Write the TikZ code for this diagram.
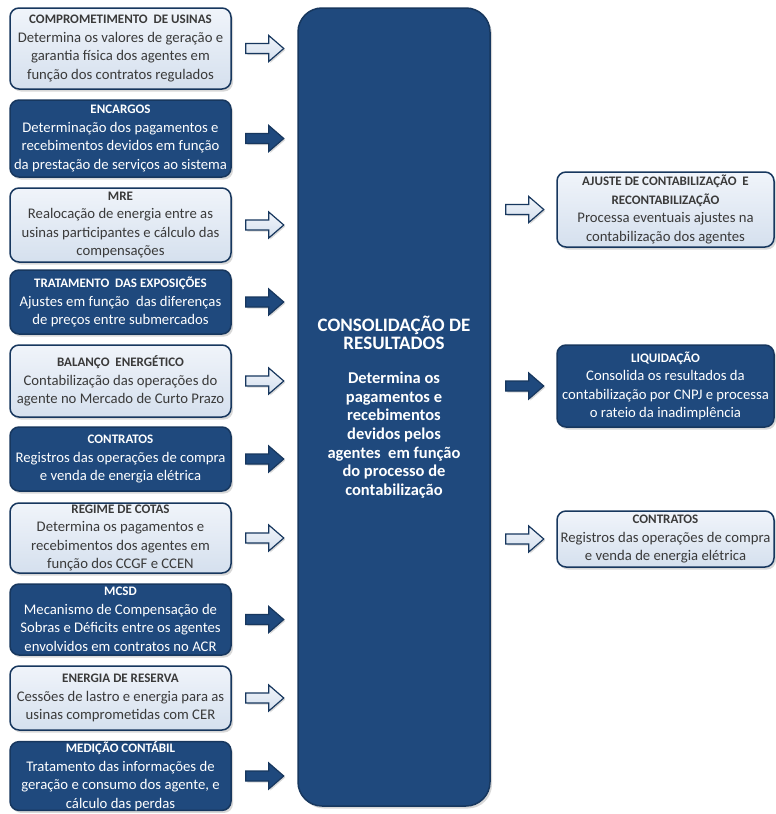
\documentclass[tikz,border=0pt]{standalone}
\usepackage{fontspec}
\setmainfont{Carlito}
\usetikzlibrary{shadows,calc}
\definecolor{navy}{HTML}{1F497D}
\definecolor{navyd}{HTML}{17375E}
\definecolor{lightbl}{HTML}{D5E0EE}
\definecolor{lighttop}{HTML}{F0F4FA}
\definecolor{txtgray}{HTML}{3A3A3A}
\newcommand\ttl[1]{{\fontsize{13}{18.5}\selectfont\bfseries #1}}
\newcommand\bigttl[1]{{\fontsize{19}{20}\selectfont #1}}
\newcommand\barrow[2]{%
  \draw[#1] #2 ++(0,5) -- ++(23,0) -- ++(0,8) -- ++(15,-13) -- ++(-15,-13) -- ++(0,8) -- ++(-23,0) -- cycle;}
\tikzset{
  box/.style={rounded corners=9pt, line width=1.5pt, draw=navyd, align=center,
    inner sep=0pt, minimum width=221pt,
    font=\fontsize{14.7}{18.5}\selectfont,
    drop shadow={shadow xshift=2pt, shadow yshift=-2.5pt, opacity=0.3}},
  lightbox/.style={box, top color=lighttop, bottom color=lightbl, text=txtgray},
  darkbox/.style={box, fill=navy, text=white},
  rbox/.style={minimum width=217pt},
  lightarrow/.style={draw=navyd, line width=1.2pt, top color=lighttop, bottom color=lightbl,
    drop shadow={shadow xshift=1.5pt, shadow yshift=-1.5pt, opacity=0.3}},
  darkarrow/.style={draw=navyd, line width=1.2pt, fill=navy,
    drop shadow={shadow xshift=1.5pt, shadow yshift=-1.5pt, opacity=0.3}},
}
\begin{document}
\begin{tikzpicture}[x=1pt, y=-1pt]
\fill[white] (0,0) rectangle (776,814);
\useasboundingbox (0,0) rectangle (776,814);

% left column
\node[lightbox, minimum height=81pt] (b1) at (120.5,48.5)
  {\ttl{COMPROMETIMENTO\ \ DE USINAS}\\Determina os valores de geração e\\garantia física dos agentes em\\função dos contratos regulados};
\node[darkbox, minimum height=77pt] (b2) at (120.5,138.5)
  {\ttl{ENCARGOS}\\Determinação dos pagamentos e\\recebimentos devidos em função\\da prestação de serviços ao sistema};
\node[lightbox, minimum height=74pt] (b3) at (120.5,225)
  {\ttl{MRE}\\Realocação de energia entre as\\usinas participantes e cálculo das\\compensações};
\node[darkbox, minimum height=64pt] (b4) at (120.5,302)
  {\ttl{TRATAMENTO\ \ DAS EXPOSIÇÕES}\\Ajustes em função\ \ das diferenças\\de preços entre submercados};
\node[lightbox, minimum height=72pt] (b5) at (120.5,381)
  {\ttl{BALANÇO\ \ ENERGÉTICO}\\Contabilização das operações do\\agente no Mercado de Curto Prazo};
\node[darkbox, minimum height=64pt] (b6) at (120.5,459)
  {\ttl{CONTRATOS}\\Registros das operações de compra\\e venda de energia elétrica};
\node[lightbox, minimum height=70pt] (b7) at (120.5,538)
  {\ttl{REGIME DE COTAS}\\Determina os pagamentos e\\recebimentos dos agentes em\\função dos CCGF e CCEN};
\node[darkbox, minimum height=71pt] (b8) at (120.5,619.5)
  {\ttl{MCSD}\\Mecanismo de Compensação de\\Sobras e Déficits entre os agentes\\envolvidos em contratos no ACR};
\node[lightbox, minimum height=64pt] (b9) at (120.5,698)
  {\ttl{ENERGIA DE RESERVA}\\Cessões de lastro e energia para as\\usinas comprometidas com CER};
\node[darkbox, minimum height=68pt] (b10) at (120.5,776)
  {\ttl{MEDIÇÃO CONTÁBIL}\\Tratamento das informações de\\geração e consumo dos agente, e\\cálculo das perdas};

% center
\node[darkbox, rounded corners=24pt, minimum width=192pt, minimum height=798pt,
  font=\fontsize{16.5}{18.7}\selectfont\bfseries] (cons) at (394,407)
  {\bigttl{CONSOLIDAÇÃO DE}\\\bigttl{RESULTADOS}\\[15pt]
   Determina os\\pagamentos e\\recebimentos\\devidos pelos\\agentes\ \ em função\\do processo de\\contabilização};

% right column
\node[lightbox, rbox, minimum height=75pt] (r1) at (665.5,209.5)
  {\ttl{AJUSTE DE CONTABILIZAÇÃO\ \ E}\\\ttl{RECONTABILIZAÇÃO}\\Processa eventuais ajustes na\\contabilização dos agentes};
\node[darkbox, rbox, minimum height=82pt] (r2) at (665.5,386)
  {\ttl{LIQUIDAÇÃO}\\Consolida os resultados da\\contabilização por CNPJ e processa\\o rateio da inadimplência};
\node[lightbox, rbox, minimum height=56pt] (r3) at (665.5,539)
  {\ttl{CONTRATOS}\\Registros das operações de compra\\e venda de energia elétrica};

% arrows left -> center
\foreach \b/\s in {b1/lightarrow,b2/darkarrow,b3/lightarrow,b4/darkarrow,b5/lightarrow,
                   b6/darkarrow,b7/lightarrow,b8/darkarrow,b9/lightarrow,b10/darkarrow}{
  \barrow{\s}{($(\b.east)+(14,0)$)}
}
% arrows center -> right
\barrow{lightarrow}{($(cons.east |- r1.west)+(15,0)$)}
\barrow{darkarrow}{($(cons.east |- r2.west)+(15,0)$)}
\barrow{lightarrow}{($(cons.east |- r3.west)+(15,0)$)}
\end{tikzpicture}
\end{document}
